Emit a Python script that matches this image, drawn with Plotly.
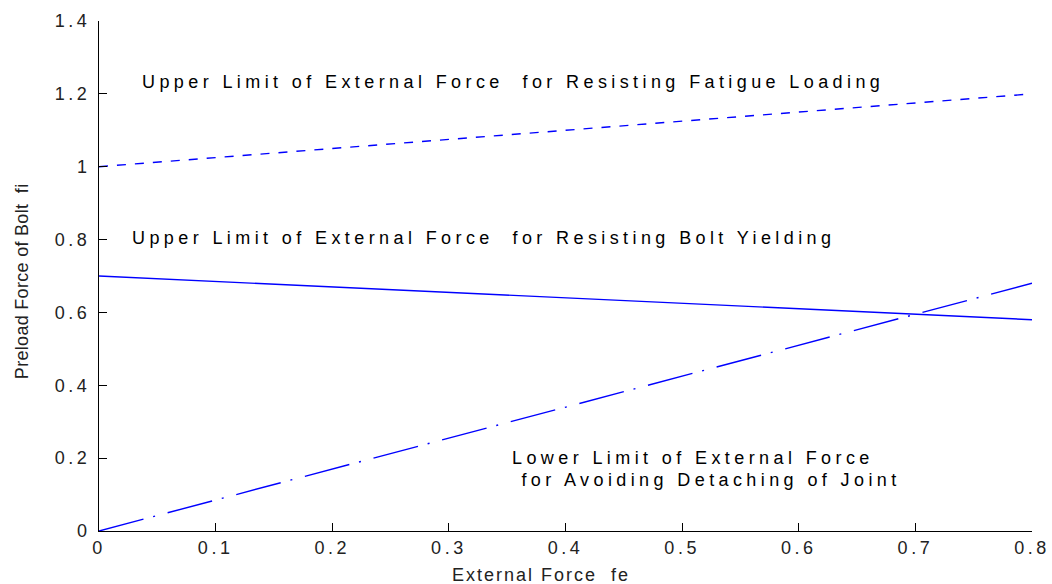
import plotly.graph_objects as go

fe = [0.0, 0.1, 0.2, 0.3, 0.4, 0.5, 0.6, 0.7, 0.8]
fatigue = [1.0, 1.025, 1.05, 1.075, 1.1, 1.125, 1.15, 1.175, 1.2]
yielding = [0.7, 0.685, 0.67, 0.655, 0.64, 0.625, 0.61, 0.595, 0.58]
detaching = [0.0, 0.085, 0.17, 0.255, 0.34, 0.425, 0.51, 0.595, 0.68]

x_ticks = [0, 0.1, 0.2, 0.3, 0.4, 0.5, 0.6, 0.7, 0.8]
y_ticks = [0, 0.2, 0.4, 0.6, 0.8, 1.0, 1.2, 1.4]

blue = "#0000ff"
FAM = "Liberation Sans, Arial, sans-serif"


def spaced(text, px):
    return '<span style="letter-spacing:%spx">%s</span>' % (px, text.replace("  ", "&nbsp; "))


fig = go.Figure()
fig.add_trace(go.Scatter(x=fe, y=fatigue, mode="lines",
                         line=dict(color=blue, width=1.4, dash="9px,9px")))
fig.add_trace(go.Scatter(x=fe, y=yielding, mode="lines",
                         line=dict(color=blue, width=1.4)))
fig.add_trace(go.Scatter(x=fe, y=detaching, mode="lines",
                         line=dict(color=blue, width=1.4, dash="46px,10px,2px,13px")))

font = dict(family=FAM, size=18, color="black")
ann = [
    dict(x=0.035, y=1.232, text="Upper Limit of External Force  for Resisting Fatigue Loading"),
    dict(x=0.0266, y=0.804, text="Upper Limit of External Force  for Resisting Bolt Yielding"),
    dict(x=0.352, y=0.200, text="Lower Limit of External Force"),
    dict(x=0.352, y=0.140, text="&nbsp;for Avoiding Detaching of Joint"),
]
for a in ann:
    fig.add_annotation(x=a["x"], y=a["y"], text=spaced(a["text"], 4.4),
                       showarrow=False, xanchor="left", yanchor="middle", font=font)

# axis titles
fig.add_annotation(xref="paper", yref="paper", x=0.474, y=-0.0863,
                   text=spaced("External Force  fe", 2), showarrow=False,
                   xanchor="center", yanchor="middle",
                   font=dict(family=FAM, size=18, color="#222"))
fig.add_annotation(xref="paper", yref="paper", x=-0.0825, y=0.49,
                   text=spaced("Preload Force of Bolt  fi", 0.3), showarrow=False, textangle=-90,
                   xanchor="center", yanchor="middle",
                   font=dict(family=FAM, size=18, color="#222"))

axis_common = dict(showgrid=False, zeroline=False, showline=True, linecolor="black",
                   linewidth=1, ticks="inside", ticklen=8, tickcolor="black",
                   automargin=False,
                   tickfont=dict(family=FAM, size=18, color="#222"))
fig.update_xaxes(range=[0, 0.8], tickvals=x_ticks,
                 ticktext=[spaced("%g" % v, 3.5) for v in x_ticks],
                 **axis_common)
fig.update_yaxes(range=[0, 1.4], tickvals=y_ticks,
                 ticktext=[spaced("%g" % v, 3.5) for v in y_ticks],
                 ticklabelstandoff=4,
                 **axis_common)
fig.update_layout(width=1052, height=584, showlegend=False,
                  plot_bgcolor="white", paper_bgcolor="white",
                  margin=dict(l=99, r=20, t=21, b=53, autoexpand=False))
fig.write_html("out.html")
